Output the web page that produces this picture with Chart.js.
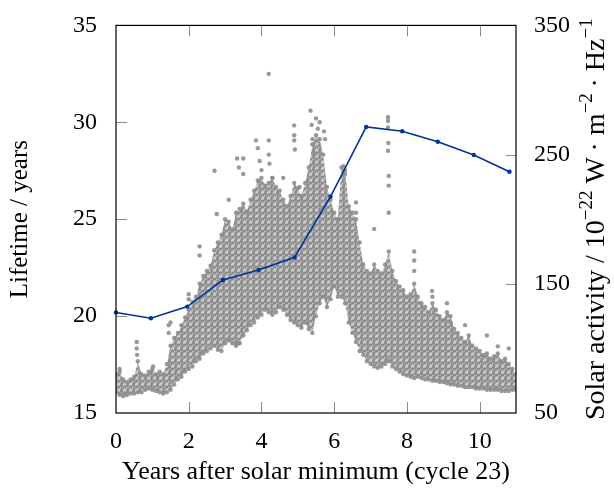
<!DOCTYPE html>
<html>
<head>
<meta charset="utf-8">
<script src="https://cdn.jsdelivr.net/npm/chart.js@4.4.0/dist/chart.umd.min.js"></script>
<style>
  html, body { margin: 0; padding: 0; background: #fff; }
</style>
</head>
<body>
<canvas id="chart" width="614" height="488"></canvas>
<script>
// Lifetime of the satellites vs. years after solar minimum (left axis)
const lifetimeYears = [0, 0.96, 1.96, 2.94, 3.92, 4.91, 5.9, 6.88, 7.87, 8.85, 9.84, 10.82];
const lifetime = [20.19, 19.89, 20.49, 21.86, 22.38, 23.03, 26.17, 29.76, 29.54, 29.0, 28.31, 27.45];

// Solar activity cloud (right axis), read as low / high edges every 0.1 year
const fluxYears = [0,0.1,0.2,0.3,0.4,0.5,0.6,0.7,0.8,0.9,1,1.1,1.2,1.3,1.4,1.5,1.6,1.7,1.8,1.9,2,2.1,2.2,2.3,2.4,2.5,2.6,2.7,2.8,2.9,3,3.1,3.2,3.3,3.4,3.5,3.6,3.7,3.8,3.9,4,4.1,4.2,4.3,4.4,4.5,4.6,4.7,4.8,4.9,5,5.1,5.2,5.3,5.4,5.5,5.6,5.7,5.8,5.9,6,6.1,6.2,6.3,6.4,6.5,6.6,6.7,6.8,6.9,7,7.1,7.2,7.3,7.4,7.5,7.6,7.7,7.8,7.9,8,8.1,8.2,8.3,8.4,8.5,8.6,8.7,8.8,8.9,9,9.1,9.2,9.3,9.4,9.5,9.6,9.7,9.8,9.9,10,10.1,10.2,10.3,10.4,10.5,10.6,10.7,10.8,10.9,11];
const fluxLow = [66,64,63,64,65,65,66,66,68,69,68,67,66,65,66,68,72,76,78,82,84,86,90,92,96,98,100,102,99,98,104,106,104,102,104,110,114,118,120,124,126,130,128,126,128,132,130,126,122,120,118,116,120,115,112,125,135,140,132,138,148,140,140,135,120,112,105,98,95,90,88,86,85,86,88,90,86,84,82,80,79,78,77,78,77,76,76,75,75,74,74,73,72,72,71,71,70,70,70,69,69,69,68,68,68,68,67,67,67,68,68];
const fluxHigh = [80,82,76,74,76,78,90,80,79,82,84,80,82,80,88,102,108,112,118,124,130,136,140,150,156,160,164,176,182,188,200,198,192,205,208,212,206,215,222,230,232,226,228,232,225,222,215,210,218,228,224,218,228,240,258,265,262,250,225,215,205,200,240,238,210,205,200,182,165,160,158,165,160,158,165,175,160,152,148,145,140,142,150,140,135,132,128,135,130,125,122,128,125,115,112,108,105,110,102,100,98,95,96,92,94,96,90,92,88,84,80];

// isolated spikes above the cloud
const spikeYears = [0.1,0.57,0.57,0.58,1.02,1.45,1.45,1.5,2.0,2.0,2.3,2.3,2.71,2.77,3.1,3.33,3.38,3.5,3.5,3.37,3.85,3.9,3.95,4.0,4.2,4.2,4.2,4.22,4.3,4.6,4.9,4.9,4.9,4.92,5.05,5.35,5.38,5.4,5.45,5.5,5.55,5.6,5.72,5.75,6.25,6.3,6.6,6.6,7.1,7.48,7.48,7.48,7.49,7.48,7.5,7.5,7.5,8.2,8.2,8.2,8.69,8.7,9.1,9.2,9.6,10.2,10.5,10.8];
const spikeFlux = [84,105,100,95,86,118,112,120,142,138,179,172,237.5,204,215,247,240,247,235,104,261,255,245,238,312.5,261,250,243,232,232,272.6,265,261,254,225,284,273,262,250,278,270,275,268,262,241,235,213,205,192.5,279,276,271,259,253,233.5,226,205,175,168,160,144.5,140,135,120,118,110,101.6,100];

const xTicksStep = 2;

function pts(xs, ys) {
  return xs.map((x, i) => ({ x: x, y: ys[i] }));
}

const serif = "'Liberation Serif', 'Times New Roman', serif";
const grey = 'rgba(142,142,142,0.9)';

// speckled fill so the band looks like a cloud of dots
function dotPattern() {
  const c = document.createElement('canvas');
  c.width = 6; c.height = 6;
  const g = c.getContext('2d');
  g.fillStyle = 'rgba(150,150,150,0.5)';
  g.fillRect(0, 0, 6, 6);
  g.fillStyle = 'rgb(140,140,140)';
  [[1.5, 1.5], [4.5, 3], [2, 4.8]].forEach(d => {
    g.beginPath(); g.arc(d[0], d[1], 1.6, 0, Math.PI * 2); g.fill();
  });
  return g.createPattern(c, 'repeat');
}

const frameAndTicks = {
  id: 'frameAndTicks',
  afterDraw(chart) {
    const ctx = chart.ctx;
    const a = chart.chartArea;
    const xs = chart.scales.x, yl = chart.scales.y, yr = chart.scales.y1;
    ctx.save();
    ctx.strokeStyle = '#8c8c8c';
    ctx.lineWidth = 1;
    ctx.beginPath();
    xs.ticks.forEach(t => {
      const px = Math.round(xs.getPixelForValue(t.value)) + 0.5;
      if (px <= a.left + 2 || px >= a.right - 2) return;
      ctx.moveTo(px, a.bottom); ctx.lineTo(px, a.bottom - 11);
      ctx.moveTo(px, a.top); ctx.lineTo(px, a.top + 11);
    });
    yl.ticks.forEach(t => {
      const py = Math.round(yl.getPixelForValue(t.value)) + 0.5;
      if (py <= a.top + 2 || py >= a.bottom - 2) return;
      ctx.moveTo(a.left, py); ctx.lineTo(a.left + 11, py);
    });
    yr.ticks.forEach(t => {
      const py = Math.round(yr.getPixelForValue(t.value)) + 0.5;
      if (py <= a.top + 2 || py >= a.bottom - 2) return;
      ctx.moveTo(a.right, py); ctx.lineTo(a.right - 10, py);
    });
    ctx.stroke();

    ctx.strokeStyle = '#000';
    ctx.lineWidth = 1.2;
    ctx.strokeRect(a.left, a.top, a.right - a.left, a.bottom - a.top);

    // right axis title, reading bottom to top, with superscripts
    const parts = [
      ['Solar activity / 10', false],
      ['\u221222', true],
      [' W\u2009\u00b7 m', false],
      ['\u22122', true],
      ['\u2009\u00b7 Hz', false],
      ['\u22121', true]
    ];
    const big = '28px ' + serif, small = '19px ' + serif;
    let total = 0;
    parts.forEach(p => { ctx.font = p[1] ? small : big; total += ctx.measureText(p[0]).width; });
    ctx.translate(597, (a.top + a.bottom) / 2);
    ctx.rotate(-Math.PI / 2);
    ctx.fillStyle = '#000';
    ctx.textBaseline = 'middle';
    let cx = -total / 2;
    parts.forEach(p => {
      ctx.font = p[1] ? small : big;
      ctx.fillText(p[0], cx, p[1] ? -10 : 0);
      cx += ctx.measureText(p[0]).width;
    });
    ctx.restore();
  }
};

new Chart(document.getElementById('chart'), {
  type: 'scatter',
  data: {
    datasets: [
      {
        type: 'line',
        label: 'Lifetime',
        data: pts(lifetimeYears, lifetime),
        yAxisID: 'y',
        borderColor: '#003399',
        backgroundColor: '#003399',
        borderWidth: 1.6,
        pointRadius: 2.2,
        pointBorderWidth: 0,
        tension: 0,
        fill: false,
        clip: 4
      },
      {
        type: 'line',
        label: 'flux low',
        data: pts(fluxYears, fluxLow),
        yAxisID: 'y1',
        showLine: true,
        borderColor: 'transparent',
        borderWidth: 0,
        backgroundColor: grey,
        pointRadius: 2.2,
        pointBorderWidth: 0,
        fill: false
      },
      {
        type: 'line',
        label: 'flux high',
        data: pts(fluxYears, fluxHigh),
        yAxisID: 'y1',
        showLine: true,
        borderColor: 'transparent',
        borderWidth: 0,
        backgroundColor: grey,
        pointRadius: 2.2,
        pointBorderWidth: 0,
        fill: { target: '-1', above: dotPattern(), below: dotPattern() }
      },
      {
        label: 'spikes',
        data: pts(spikeYears, spikeFlux),
        yAxisID: 'y1',
        backgroundColor: grey,
        pointRadius: 2.2,
        pointBorderWidth: 0
      }
    ]
  },
  options: {
    responsive: false,
    animation: false,
    devicePixelRatio: 1,
    layout: { padding: { top: 13, left: 0, right: 0, bottom: 0 } },
    plugins: { legend: { display: false }, tooltip: { enabled: false } },
    scales: {
      x: {
        type: 'linear',
        min: 0,
        max: 11,
        grid: { display: false },
        border: { display: false },
        ticks: { stepSize: xTicksStep, includeBounds: false, padding: 6, color: '#000', font: { family: serif, size: 24 } },
        title: { display: true, text: 'Years after solar minimum (cycle 23)', color: '#000', font: { family: serif, size: 26 }, padding: 0 },
        afterFit: s => { s.height = 75; }
      },
      y: {
        position: 'left',
        min: 15,
        max: 35,
        grid: { display: false },
        border: { display: false },
        ticks: { stepSize: 5, padding: 11, color: '#000', font: { family: serif, size: 24 } },
        title: { display: true, text: 'Lifetime / years', color: '#000', font: { family: serif, size: 25 }, padding: { top: 5, bottom: 0 } },
        afterFit: s => { s.width = 116; }
      },
      y1: {
        position: 'right',
        min: 50,
        max: 350,
        grid: { display: false },
        border: { display: false },
        ticks: { stepSize: 100, padding: 10, color: '#000', font: { family: serif, size: 24 } },
        afterFit: s => { s.width = 98; }
      }
    }
  },
  plugins: [frameAndTicks]
});
</script>
</body>
</html>
